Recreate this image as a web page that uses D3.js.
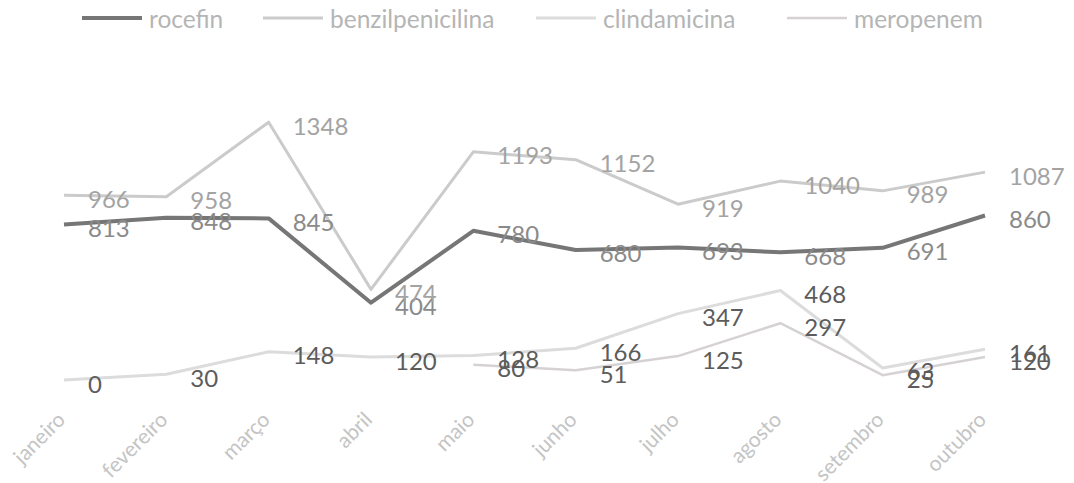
<!DOCTYPE html>
<html>
<head>
<meta charset="utf-8">
<script src="https://cdn.jsdelivr.net/npm/d3@7/dist/d3.min.js"></script>
<style>
  html, body { margin: 0; padding: 0; background: #fff; }
  svg { display: block; font-family: Lato, "Open Sans", sans-serif; }
</style>
</head>
<body>
<svg id="chart" width="1074" height="483"></svg>
<script>
// Monthly consumption per antibiotic
const months = ["janeiro", "fevereiro", "março", "abril", "maio", "junho", "julho", "agosto", "setembro", "outubro"];
const rocefin = [813, 848, 845, 404, 780, 680, 693, 668, 691, 860];
const benzilpenicilina = [966, 958, 1348, 474, 1193, 1152, 919, 1040, 989, 1087];
const clindamicina = [0, 30, 148, 120, 128, 166, 347, 468, 63, 161];
const meropenem = [null, null, null, null, 80, 51, 125, 297, 25, 120];
const seriesNames = ["rocefin", "benzilpenicilina", "clindamicina", "meropenem"];

const series = [
  { name: seriesNames[0], values: rocefin, stroke: "#767676", width: 4, label: "#8a8a8a" },
  { name: seriesNames[1], values: benzilpenicilina, stroke: "#cbcbcb", width: 3, label: "#a3a3a3" },
  { name: seriesNames[2], values: clindamicina, stroke: "#dcdcdc", width: 3, label: "#5c5c5c" },
  { name: seriesNames[3], values: meropenem, stroke: "#d6d2d4", width: 2.5, label: "#5c5c5c" }
];

const svg = d3.select("#chart");

const x = d3.scalePoint().domain(months).range([64, 985]);
const y = d3.scaleLinear().domain([0, 1600]).range([380, 74]);

const line = d3.line()
  .defined(d => d.v !== null)
  .x(d => x(d.m))
  .y(d => y(d.v));

const toPoints = s => months.map((m, i) => ({ m, v: s.values[i] }));

// Lines
svg.append("g").selectAll("path")
  .data(series)
  .join("path")
  .attr("fill", "none")
  .attr("stroke", d => d.stroke)
  .attr("stroke-width", d => d.width)
  .attr("stroke-linejoin", "round")
  .attr("d", d => line(toPoints(d)));

// Data labels, to the right of each point
const labels = svg.append("g").attr("font-size", 24);
series.forEach(s => {
  labels.append("g").selectAll("text")
    .data(toPoints(s).filter(p => p.v !== null))
    .join("text")
    .attr("x", p => x(p.m) + 24)
    .attr("y", p => y(p.v) + 3)
    .attr("dominant-baseline", "central")
    .attr("fill", s.label)
    .text(p => p.v);
});

// Category axis labels, rotated
const xAxis = svg.append("g").attr("transform", "translate(0,421)")
  .call(d3.axisBottom(x).tickSize(0).tickPadding(0));
xAxis.select(".domain").remove();
xAxis.selectAll("text")
  .attr("font-family", "Lato, 'Open Sans', sans-serif")
  .attr("font-size", 21)
  .attr("fill", "#c4c4c4")
  .attr("dy", 0)
  .attr("y", 0)
  .attr("x", 0)
  .attr("text-anchor", "end")
  .attr("transform", "translate(2,0) rotate(-45)");

// Legend
const legendX = [82, 263, 536, 787];
const legend = svg.append("g").attr("transform", "translate(0,18)");
series.forEach((s, i) => {
  const g = legend.append("g").attr("transform", `translate(${legendX[i]},0)`);
  g.append("line").attr("x1", 0).attr("x2", 60).attr("y1", 0).attr("y2", 0)
    .attr("stroke", s.stroke).attr("stroke-width", s.width);
  g.append("text").attr("x", 67).attr("y", 0)
    .attr("dominant-baseline", "central")
    .attr("font-size", 24.5)
    .attr("fill", "#b5b5b5")
    .text(s.name);
});
</script>
</body>
</html>
